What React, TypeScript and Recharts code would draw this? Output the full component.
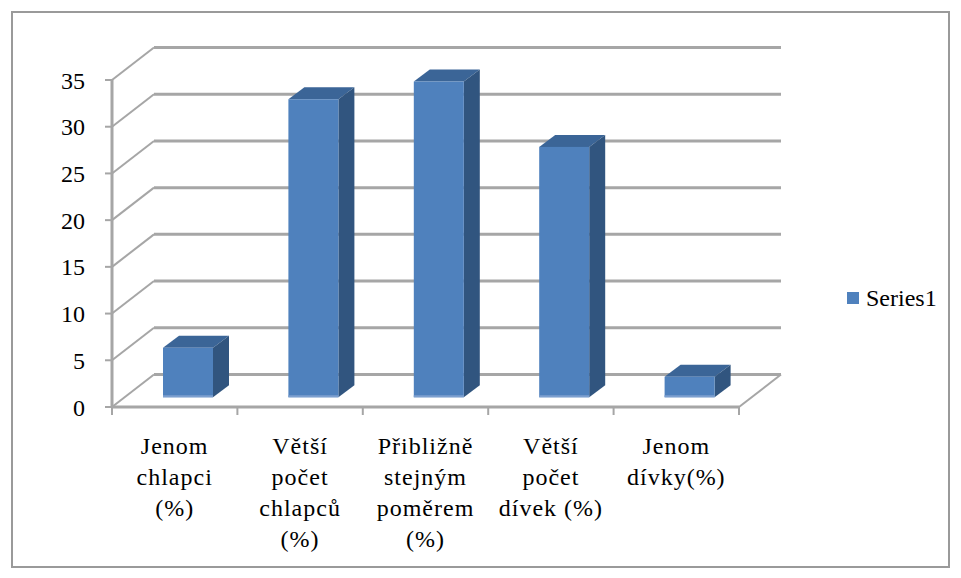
import React from "react";
import { BarChart, Bar, XAxis, YAxis, CartesianGrid, Legend } from "recharts";

const categories = [
  "Jenom\nchlapci\n(%)",
  "Větší\npočet\nchlapců\n(%)",
  "Přibližně\nstejným\npoměrem\n(%)",
  "Větší\npočet\ndívek (%)",
  "Jenom\ndívky(%)",
];
const series1 = [5.3, 31.9, 33.8, 26.8, 2.2];
const yTicks = [0, 5, 10, 15, 20, 25, 30, 35];

const data = categories.map((name, i) => ({ name, Series1: series1[i] }));

const FONT = '"Liberation Serif", monospace';
const GRID = "#a6a6a6";
// depth of the floor / back wall, and where the boxes sit inside it
const WALL_DX = 42;
const WALL_DY = -32.5;
const BAR_DX = 13;
const BAR_DY = -9.7;
const BOX_DX = 16;
const BOX_DY = -12;

// 3D column: top, side, then front face
const Box3D = (props: any) => {
  const { x, y, width, height } = props;
  if (!height) return null;
  const fx = x + BAR_DX;
  const fy = y + BAR_DY;
  return (
    <g>
      <polygon
        points={`${fx},${fy} ${fx + BOX_DX},${fy + BOX_DY} ${fx + width + BOX_DX},${fy + BOX_DY} ${fx + width},${fy}`}
        fill="#3b6597"
      />
      <polygon
        points={`${fx + width},${fy} ${fx + width + BOX_DX},${fy + BOX_DY} ${fx + width + BOX_DX},${fy + height + BOX_DY} ${fx + width},${fy + height}`}
        fill="#31557f"
      />
      <rect x={fx} y={fy} width={width} height={height} fill="#4f81bd" />
      <line x1={fx} y1={fy + height - 1} x2={fx + width} y2={fy + height - 1} stroke="#7c9fcf" strokeWidth={2} />
    </g>
  );
};

// gridline: diagonal up the side wall, then along the back wall
const WallLine = (props: any) => {
  const { x1, y1, x2, y, height } = props;
  const isFloor = Math.abs(y1 - (y + height)) < 1;
  return (
    <g key={props.key}>
      <line x1={x1} y1={y1} x2={x1 + WALL_DX} y2={y1 + WALL_DY} stroke={GRID} strokeWidth={2} />
      <line x1={x1 + WALL_DX} y1={y1 + WALL_DY} x2={x2 + WALL_DX} y2={y1 + WALL_DY} stroke={GRID} strokeWidth={3} />
      {isFloor && (
        <line x1={x2} y1={y1} x2={x2 + WALL_DX} y2={y1 + WALL_DY} stroke={GRID} strokeWidth={2} />
      )}
    </g>
  );
};

const CatTick = (props: any) => {
  const { x, y, payload, index, visibleTicksCount } = props;
  const off = payload.offset ?? 62.7;
  const lines = String(payload.value).split("\n");
  return (
    <g>
      <line x1={x - off} y1={y} x2={x - off} y2={y + 8} stroke={GRID} strokeWidth={2} />
      {index === visibleTicksCount - 1 && (
        <line x1={x + off} y1={y} x2={x + off} y2={y + 8} stroke={GRID} strokeWidth={2} />
      )}
      <text x={x} y={y + 47} textAnchor="middle" style={{ fontFamily: FONT, fontSize: 24, letterSpacing: 1 }} fill="#000">
        {lines.map((l, i) => (
          <tspan key={i} x={x} dy={i === 0 ? 0 : 31}>
            {l}
          </tspan>
        ))}
      </text>
    </g>
  );
};

const LegendBox = ({ payload }: any) => (
  <div style={{ fontFamily: FONT, fontSize: 24, lineHeight: "24px", color: "#000" }}>
    {(payload || []).map((p: any) => (
      <div key={p.value} style={{ display: "flex", alignItems: "center" }}>
        <span style={{ display: "inline-block", width: 12, height: 12, background: p.color, marginRight: 7 }} />
        <span>{p.value}</span>
      </div>
    ))}
  </div>
);

export default function App() {
  return (
    <div style={{ position: "relative", width: 961, height: 578, margin: -8, background: "#fff", fontFamily: FONT }}>
      <BarChart
        width={961}
        height={578}
        data={data}
        margin={{ top: 80, right: 112, left: 0, bottom: 0 }}
        barSize={50}
        style={{ fontFamily: FONT }}
      >
        <CartesianGrid vertical={false} horizontal={WallLine} />
        <XAxis
          dataKey="name"
          interval={0}
          height={171}
          tickLine={false}
          tickSize={0}
          tickMargin={0}
          axisLine={{ stroke: GRID, strokeWidth: 3 }}
          tick={<CatTick />}
        />
        <YAxis
          domain={[0, 35]}
          ticks={yTicks}
          interval={0}
          width={112}
          tickSize={7}
          tickMargin={20}
          axisLine={{ stroke: GRID, strokeWidth: 3 }}
          tickLine={{ stroke: GRID, strokeWidth: 2 }}
          tick={{ fill: "#000", fontSize: 24, style: { fontFamily: FONT } }}
        />
        <Legend
          layout="vertical"
          align="right"
          verticalAlign="middle"
          width={110}
          wrapperStyle={{ left: 847, top: 286, right: "auto" }}
          content={<LegendBox />}
        />
        <Bar dataKey="Series1" fill="#4f81bd" shape={<Box3D />} isAnimationActive={false} />
      </BarChart>
      <div
        style={{
          position: "absolute",
          left: 11,
          top: 11,
          width: 939,
          height: 557,
          boxSizing: "border-box",
          border: "2px solid #9a9a9a",
          pointerEvents: "none",
        }}
      />
    </div>
  );
}
